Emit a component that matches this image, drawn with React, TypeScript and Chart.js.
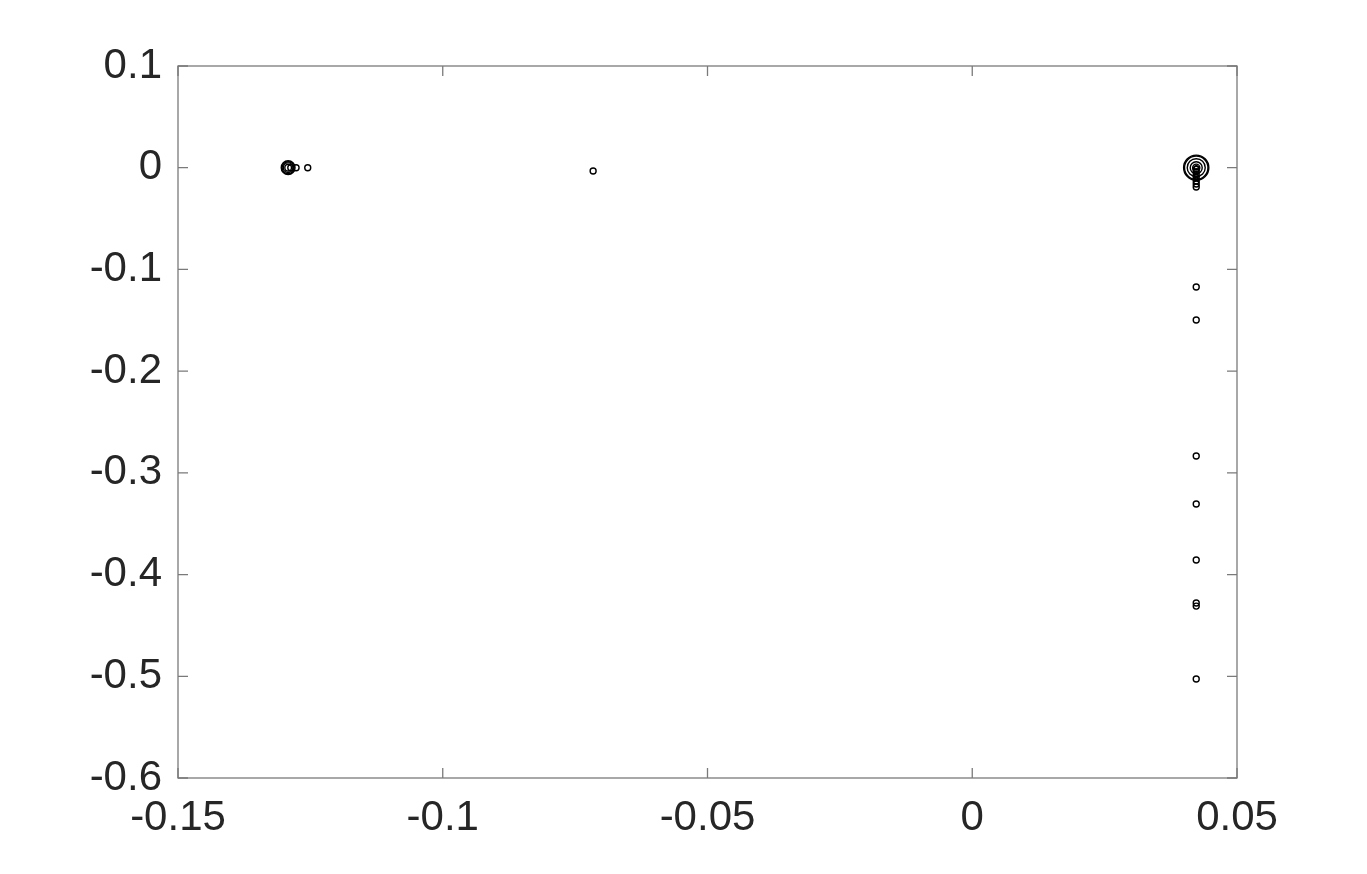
import React, { useEffect, useRef } from "react";
import { Chart, registerables } from "chart.js";

Chart.register(...registerables);

// Pole locations (real part, imaginary part) and their weights
const realParts = [
  -0.1292, -0.1292, -0.1292, -0.1292, -0.1287, -0.1277, -0.1255,
  -0.0716,
  0.0423, 0.0423, 0.0423, 0.0423, 0.0423, 0.0423,
  0.0423, 0.0423, 0.0423, 0.0423, 0.0423, 0.0423, 0.0423,
  0.0423, 0.0423, 0.0423, 0.0423, 0.0423, 0.0423, 0.0423, 0.0423,
];
const imagParts = [
  0.0, 0.0, 0.0, 0.0, 0.0, 0.0, 0.0,
  -0.0032,
  0.0, 0.0, 0.0, 0.0, 0.0, 0.0,
  -0.004, -0.007, -0.010, -0.013, -0.016, -0.019, -0.0015,
  -0.1173, -0.1497, -0.2834, -0.3306, -0.3857, -0.428, -0.431, -0.5027,
];
const weights = [
  2.3, 2.0, 1.6, 1.1, 1, 1, 1,
  1,
  4.2, 3.9, 3.0, 2.0, 1.2, 0.7,
  1, 1, 1, 1, 1, 1, 1,
  1, 1, 1, 1, 1, 1, 1, 1,
];

const xTickMin = -0.15;
const xTickMax = 0.05;
const xTickStep = 0.05;
const yTickMin = -0.6;
const yTickMax = 0.1;
const yTickStep = 0.1;

const fmt = (v: number) => String(Number(Number(v).toFixed(3)));

const boxPlugin = {
  id: "boxTicks",
  afterDraw(chart: any) {
    const { ctx, chartArea } = chart;
    const { left, right, top, bottom } = chartArea;
    const xs = chart.scales.x;
    const ys = chart.scales.y;
    ctx.save();
    ctx.strokeStyle = "#7a7a7a";
    ctx.lineWidth = 1.3;
    ctx.strokeRect(left, top, right - left, bottom - top);
    const tl = 10;
    ctx.beginPath();
    xs.ticks.forEach((t: any) => {
      const p = xs.getPixelForValue(t.value);
      ctx.moveTo(p, bottom);
      ctx.lineTo(p, bottom - tl);
      ctx.moveTo(p, top);
      ctx.lineTo(p, top + tl);
    });
    ys.ticks.forEach((t: any) => {
      const p = ys.getPixelForValue(t.value);
      ctx.moveTo(left, p);
      ctx.lineTo(left + tl, p);
      ctx.moveTo(right, p);
      ctx.lineTo(right - tl, p);
    });
    ctx.stroke();
    ctx.restore();
  },
};

export default function App() {
  const ref = useRef<HTMLCanvasElement>(null);
  useEffect(() => {
    const canvas = ref.current;
    if (!canvas) return;
    const data = realParts.map((x, i) => ({ x, y: imagParts[i], r: weights[i] * 3 }));
    const font = { family: "'Liberation Sans', Arial, sans-serif", size: 42 };
    const chart = new Chart(canvas, {
      type: "bubble",
      data: {
        datasets: [
          {
            data,
            backgroundColor: "rgba(0,0,0,0)",
            borderColor: "#000000",
            borderWidth: 1.4,
          },
        ],
      },
      options: {
        responsive: false,
        animation: false,
        clip: false as any,
        layout: { padding: { left: 0, top: 66, right: 130, bottom: 0 } },
        plugins: {
          legend: { display: false },
          tooltip: { enabled: false },
        },
        scales: {
          x: {
            type: "linear",
            min: xTickMin,
            max: xTickMax,
            grid: { display: false, drawTicks: false },
            border: { display: false },
            ticks: {
              stepSize: xTickStep,
              font,
              color: "#262626",
              padding: 15,
              maxRotation: 0,
              callback: (v: any) => fmt(v),
            },
            afterFit: (s: any) => {
              s.height = 96;
            },
          },
          y: {
            type: "linear",
            min: yTickMin,
            max: yTickMax,
            grid: { display: false, drawTicks: false },
            border: { display: false },
            ticks: {
              stepSize: yTickStep,
              font,
              color: "#262626",
              padding: 16,
              callback: (v: any) => fmt(v),
            },
            afterFit: (s: any) => {
              s.width = 178;
            },
          },
        },
      },
      plugins: [boxPlugin],
    });
    return () => chart.destroy();
  }, []);
  return (
    <div style={{ position: "fixed", left: 0, top: 0, width: 1367, height: 874, background: "#fff" }}>
      <canvas ref={ref} width={1367} height={874} />
    </div>
  );
}
